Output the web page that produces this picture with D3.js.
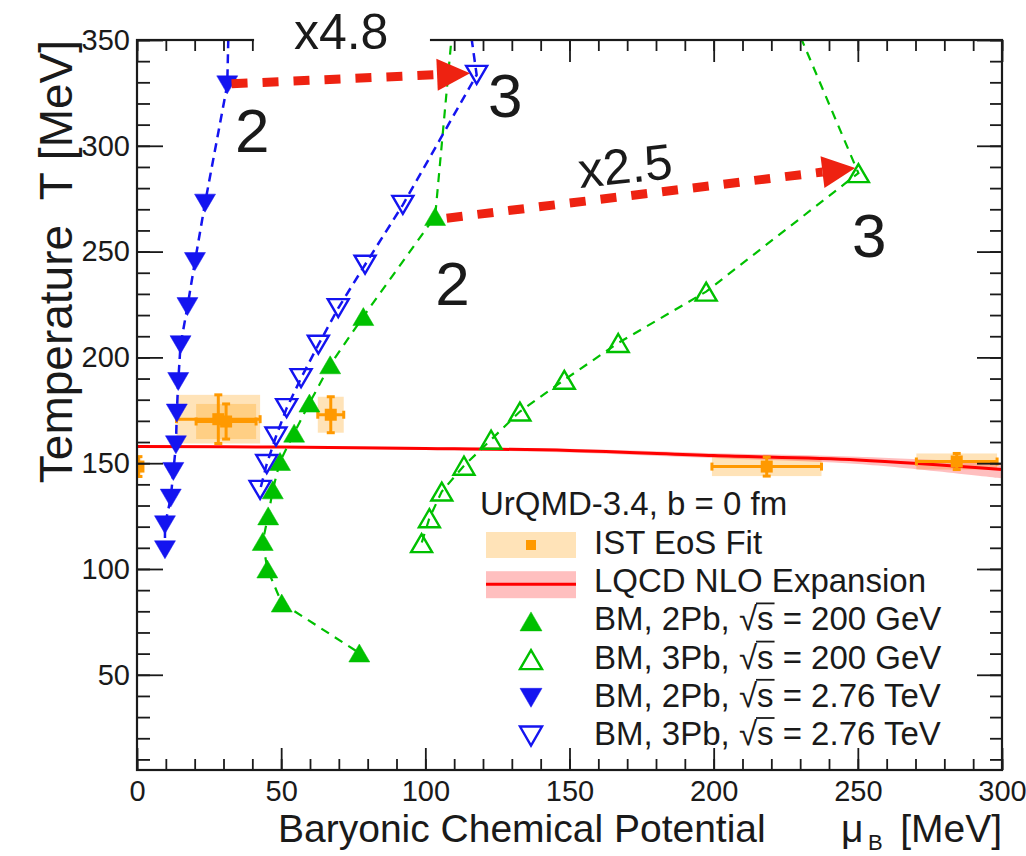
<!DOCTYPE html>
<html>
<head>
<meta charset="utf-8">
<script src="https://cdn.jsdelivr.net/npm/d3@7"></script>
<style>
body { margin: 0; background: #fff; }
svg { display: block; font-family: "Liberation Sans", Arial, Helvetica, sans-serif; }
</style>
</head>
<body>
<svg id="drawing_region"></svg>
<script>
// axis ticks
const xMajor = [0, 50, 100, 150, 200, 250, 300];
const yMajor = [50, 100, 150, 200, 250, 300, 350];

// BM, 2Pb, sqrt(s) = 200 GeV (first point is above the frame, only the line shows)
const mu2Pb200 = [112.4, 103.4, 78.5, 67.0, 59.8, 54.5, 49.6, 47.1, 45.5, 43.6, 45.2, 50.2, 77.1];
const T2Pb200  = [400, 266.6, 219.3, 196.5, 178.4, 164.2, 150.8, 137.4, 125.1, 113.0, 100.0, 83.9, 60.3];

// BM, 3Pb, sqrt(s) = 200 GeV
const mu3Pb200 = [215.0, 250.2, 197.4, 166.9, 148.2, 132.8, 122.8, 113.4, 105.7, 101.4, 98.7];
const T3Pb200  = [400, 287.1, 231.1, 206.8, 189.4, 174.4, 161.1, 148.8, 136.6, 124.0, 112.2];

// BM, 2Pb, sqrt(s) = 2.76 TeV
const mu2Pb276 = [32.5, 31.3, 23.6, 20.1, 17.5, 15.1, 14.3, 13.8, 13.5, 12.6, 11.7, 9.7, 9.7];
const T2Pb276  = [400, 328.8, 272.9, 245.3, 224.0, 206.0, 188.6, 173.7, 158.7, 146.1, 133.5, 120.9, 109.1];

// BM, 3Pb, sqrt(s) = 2.76 TeV
const mu3Pb276 = [111.0, 117.8, 92.2, 79.1, 69.8, 62.9, 56.9, 51.9, 48.2, 45.0, 42.7];
const T3Pb276  = [400, 333.5, 272.1, 243.8, 223.3, 206.0, 190.2, 176.0, 162.6, 149.6, 137.4];

// IST EoS fit points with errors
const istMu    = [0.5, 28.2, 30.9, 67.2, 218.4, 284.3];
const istT     = [148.4, 170.8, 169.7, 172.9, 148.4, 150.8];
const istMuErr = [1.0, 14.5, 10.4, 4.5, 19.0, 14.0];
const istTErr  = [4.7, 11.5, 8.3, 8.5, 4.5, 3.8];

// LQCD NLO expansion line and band
const lqcdMu = [0, 50, 100, 150, 200, 250, 300];
const lqcdT  = [157.9, 157.6, 157.0, 156.0, 153.6, 151.5, 147.0];
const lqcdLo = [157.5, 157.2, 156.4, 155.1, 152.4, 149.6, 142.8];
const lqcdHi = [158.3, 158.0, 157.6, 156.8, 154.7, 153.1, 150.1];

// arrows (from, to) in data units
const arrowFromMu = [32.8, 107.4];
const arrowFromT  = [329.3, 265.8];
const arrowToMu   = [115.5, 249.1];
const arrowToT    = [334.3, 289.5];

const legendLabels = ['IST EoS Fit', 'LQCD NLO Expansion',
  ['BM, 2Pb, ', ' = 200 GeV'], ['BM, 3Pb, ', ' = 200 GeV'],
  ['BM, 2Pb, ', ' = 2.76 TeV'], ['BM, 3Pb, ', ' = 2.76 TeV']];

const width = 1026;
const height = 856;
const margin = {top: 40, right: 24, bottom: 86, left: 137};
const iw = width - margin.left - margin.right;
const ih = height - margin.top - margin.bottom;

const GREEN = '#00c000', BLUE = '#1414f0', ORANGE = '#ff9900', RED = '#ff0000', ARROW = '#ee2211', INK = '#1a1a1a';

const svg = d3.select('#drawing_region')
  .attr('width', width)
  .attr('height', height);

svg.append('rect').attr('width', width).attr('height', height).attr('fill', '#fff');

const chart = svg.append('g')
  .attr('transform', `translate(${margin.left}, ${margin.top})`);

const x = d3.scaleLinear().domain([0, 300]).range([0, iw]);
const y = d3.scaleLinear().domain([5, 350]).range([ih, 0]);

chart.append('clipPath').attr('id', 'frame-clip')
  .append('rect').attr('width', iw).attr('height', ih);

const plot = chart.append('g').attr('clip-path', 'url(#frame-clip)');

// IST boxes
const ist = d3.range(istMu.length).map(i => ({mu: istMu[i], T: istT[i], em: istMuErr[i], eT: istTErr[i]}));
plot.append('g').selectAll('rect').data(ist).enter()
  .append('rect')
  .attr('x', d => x(d.mu - d.em))
  .attr('y', d => y(d.T + d.eT))
  .attr('width', d => x(d.mu + d.em) - x(d.mu - d.em))
  .attr('height', d => y(d.T - d.eT) - y(d.T + d.eT))
  .attr('fill', ORANGE)
  .attr('fill-opacity', 0.28);

// LQCD band + line
const lqcd = d3.range(lqcdMu.length).map(i => ({mu: lqcdMu[i], T: lqcdT[i], lo: lqcdLo[i], hi: lqcdHi[i]}));
plot.append('path').datum(lqcd)
  .attr('d', d3.area().x(d => x(d.mu)).y0(d => y(d.lo)).y1(d => y(d.hi)).curve(d3.curveCatmullRom))
  .attr('fill', RED).attr('fill-opacity', 0.25);
plot.append('path').datum(lqcd)
  .attr('d', d3.line().x(d => x(d.mu)).y(d => y(d.T)).curve(d3.curveCatmullRom))
  .attr('fill', 'none').attr('stroke', RED).attr('stroke-width', 3);

// BM series
const series = [
  {mu: mu2Pb200, T: T2Pb200, color: GREEN, down: false, filled: true, dash: '9,7', lw: 2.2},
  {mu: mu3Pb200, T: T3Pb200, color: GREEN, down: false, filled: false, dash: '9,7', lw: 2.2},
  {mu: mu2Pb276, T: T2Pb276, color: BLUE, down: true, filled: true, dash: '9,6', lw: 2.5},
  {mu: mu3Pb276, T: T3Pb276, color: BLUE, down: true, filled: false, dash: '9,6', lw: 2.5}
];

function triPath(w, h, down) {
  return down
    ? `M${-w},${-h / 2}L${w},${-h / 2}L0,${h / 2}Z`
    : `M0,${-h / 2}L${w},${h / 2}L${-w},${h / 2}Z`;
}

series.forEach(s => {
  const pts = d3.range(s.mu.length).map(i => ({mu: s.mu[i], T: s.T[i]}));
  plot.append('path').datum(pts)
    .attr('d', d3.line().x(d => x(d.mu)).y(d => y(d.T)))
    .attr('fill', 'none')
    .attr('stroke', s.color)
    .attr('stroke-width', s.lw)
    .attr('stroke-dasharray', s.dash);
  s.pts = pts;
});

// IST error bars and squares
const bars = plot.append('g').attr('stroke', ORANGE).attr('stroke-width', 3);
ist.forEach(d => {
  bars.append('line').attr('x1', x(d.mu - d.em)).attr('x2', x(d.mu + d.em)).attr('y1', y(d.T)).attr('y2', y(d.T));
  bars.append('line').attr('x1', x(d.mu)).attr('x2', x(d.mu)).attr('y1', y(d.T - d.eT)).attr('y2', y(d.T + d.eT));
  [d.mu - d.em, d.mu + d.em].forEach(v => bars.append('line')
    .attr('x1', x(v)).attr('x2', x(v)).attr('y1', y(d.T) - 4).attr('y2', y(d.T) + 4));
  [d.T - d.eT, d.T + d.eT].forEach(v => bars.append('line')
    .attr('x1', x(d.mu) - 4).attr('x2', x(d.mu) + 4).attr('y1', y(v)).attr('y2', y(v)));
});
plot.append('g').selectAll('rect').data(ist).enter()
  .append('rect')
  .attr('x', d => x(d.mu) - 6).attr('y', d => y(d.T) - 6)
  .attr('width', 12).attr('height', 12)
  .attr('fill', ORANGE);

// triangle markers on top
series.forEach(s => {
  plot.append('g').selectAll('path').data(s.pts).enter()
    .append('path')
    .attr('transform', d => `translate(${x(d.mu)},${y(d.T)})`)
    .attr('d', triPath(10.5, 18, s.down))
    .attr('fill', s.filled ? s.color : 'none')
    .attr('stroke', s.color)
    .attr('stroke-width', s.filled ? 0.5 : 2.4)
    .attr('stroke-linejoin', 'miter');
});

// axes, ticks inward on all four sides
function styleAxis(g) {
  g.select('.domain').remove();
  g.selectAll('line').attr('stroke', INK).attr('stroke-width', 1.8);
  g.selectAll('text').attr('font-size', 29).attr('fill', INK)
    .attr('font-family', '"Liberation Sans", Arial, sans-serif');
}
const xMinor = d3.range(0, 301, 10);
const yMinor = d3.range(10, 351, 10);

chart.append('g').attr('transform', `translate(0,${ih})`)
  .call(d3.axisBottom(x).tickValues(xMinor).tickSize(-11).tickFormat('')).call(styleAxis);
chart.append('g').attr('transform', `translate(0,${ih})`)
  .call(d3.axisBottom(x).tickValues(xMajor).tickSize(-22).tickPadding(10).tickFormat(d3.format('d'))).call(styleAxis);
chart.append('g')
  .call(d3.axisTop(x).tickValues(xMinor).tickSize(-11).tickFormat('')).call(styleAxis);
chart.append('g')
  .call(d3.axisTop(x).tickValues(xMajor).tickSize(-22).tickFormat('')).call(styleAxis);
chart.append('g')
  .call(d3.axisLeft(y).tickValues(yMinor).tickSize(-13).tickFormat('')).call(styleAxis);
chart.append('g')
  .call(d3.axisLeft(y).tickValues(yMajor).tickSize(-26).tickPadding(7).tickFormat(d3.format('d'))).call(styleAxis);
chart.append('g').attr('transform', `translate(${iw},0)`)
  .call(d3.axisRight(y).tickValues(yMinor).tickSize(-12).tickFormat('')).call(styleAxis);
chart.append('g').attr('transform', `translate(${iw},0)`)
  .call(d3.axisRight(y).tickValues(yMajor).tickSize(-25).tickFormat('')).call(styleAxis);

chart.append('rect')
  .attr('width', iw).attr('height', ih)
  .attr('fill', 'none').attr('stroke', INK).attr('stroke-width', 2.2);

// red arrows
const arrows = chart.append('g');
d3.range(arrowFromMu.length).forEach(i => {
  const x0 = x(arrowFromMu[i]), y0 = y(arrowFromT[i]);
  const x1 = x(arrowToMu[i]), y1 = y(arrowToT[i]);
  const ang = Math.atan2(y1 - y0, x1 - x0);
  const headLen = 33, headW = 16;
  const bx = x1 - headLen * Math.cos(ang), by = y1 - headLen * Math.sin(ang);
  arrows.append('line')
    .attr('x1', x0).attr('y1', y0).attr('x2', bx).attr('y2', by)
    .attr('stroke', ARROW).attr('stroke-width', 9).attr('stroke-dasharray', '16,15');
  const nx = -Math.sin(ang), ny = Math.cos(ang);
  arrows.append('path')
    .attr('d', `M${x1},${y1}L${bx + nx * headW},${by + ny * headW}L${bx - nx * headW},${by - ny * headW}Z`)
    .attr('fill', ARROW);
});

// white pave behind x4.8 (hides part of the top axis)
chart.append('rect')
  .attr('x', x(40.6)).attr('y', -margin.top)
  .attr('width', x(101.6) - x(40.6)).attr('height', margin.top + 27)
  .attr('fill', '#fff');

const note = chart.append('g').attr('fill', INK);
note.append('text').attr('x', x(70.8)).attr('y', y(345.8))
  .attr('text-anchor', 'middle').attr('font-size', 50).text('x4.8');
note.append('text')
  .attr('transform', `translate(${x(169.9)},${y(282.4)}) rotate(-6)`)
  .attr('text-anchor', 'middle').attr('font-size', 50).text('x2.5');
const numMu = [34.0, 121.7, 103.4, 248.0];
const numT  = [297.2, 313.7, 224.9, 247.5];
const numTxt = ['2', '3', '2', '3'];
numTxt.forEach((t, i) => note.append('text')
  .attr('x', x(numMu[i])).attr('y', y(numT[i])).attr('font-size', 62).text(t));

// axis titles
svg.append('text')
  .attr('transform', 'translate(72,40) rotate(-90)')
  .attr('text-anchor', 'end').attr('font-size', 46).attr('fill', INK)
  .style('white-space', 'pre')
  .text('Temperature  T [MeV]');
svg.append('text').attr('x', 278).attr('y', 842)
  .attr('font-size', 39).attr('fill', INK).text('Baryonic Chemical Potential');
svg.append('text').attr('x', 841).attr('y', 842)
  .attr('font-size', 39).attr('fill', INK).text('μ');
svg.append('text').attr('x', 868).attr('y', 850)
  .attr('font-size', 22).attr('fill', INK).text('B');
svg.append('text').attr('x', 1002).attr('y', 842).attr('text-anchor', 'end')
  .attr('font-size', 39).attr('fill', INK).text('[MeV]');

// legend
const leg = svg.append('g').attr('font-size', 33).attr('fill', INK);
leg.append('text').attr('x', 480).attr('y', 515).text('UrQMD-3.4, b = 0 fm');
const legY = d3.range(legendLabels.length).map(i => 554 + i * 38.2);
const symX = 531, txtX = 594;

// IST entry
leg.append('rect').attr('x', 486).attr('y', legY[0] - 22).attr('width', 90).attr('height', 26)
  .attr('fill', ORANGE).attr('fill-opacity', 0.28);
leg.append('rect').attr('x', symX - 5).attr('y', legY[0] - 14).attr('width', 10).attr('height', 10).attr('fill', ORANGE);
// LQCD entry
leg.append('rect').attr('x', 486).attr('y', legY[1] - 21).attr('width', 90).attr('height', 27)
  .attr('fill', RED).attr('fill-opacity', 0.25);
leg.append('line').attr('x1', 486).attr('x2', 576).attr('y1', legY[1] - 8).attr('y2', legY[1] - 8)
  .attr('stroke', RED).attr('stroke-width', 3);
// BM entries
series.forEach((s, i) => {
  leg.append('path')
    .attr('transform', `translate(${symX},${legY[i + 2] - 9})`)
    .attr('d', triPath(11, 19, s.down))
    .attr('fill', s.filled ? s.color : 'none')
    .attr('stroke', s.color).attr('stroke-width', s.filled ? 0.5 : 2.4);
});
legendLabels.forEach((lab, i) => {
  const t = leg.append('text').attr('x', txtX).attr('y', legY[i]);
  if (typeof lab === 'string') { t.text(lab); return; }
  t.text(lab[0] + '√s' + lab[1]);
  // bar over the s, as in #sqrt{s}
  const n = t.node();
  const sIdx = lab[0].length + 1;
  const sx0 = txtX + n.getSubStringLength(0, sIdx);
  const sx1 = sx0 + n.getSubStringLength(sIdx, 1);
  leg.append('line')
    .attr('x1', sx0 - 1).attr('x2', sx1 + 1)
    .attr('y1', legY[i] - 27).attr('y2', legY[i] - 27)
    .attr('stroke', INK).attr('stroke-width', 1.8);
});
</script>
</body>
</html>
